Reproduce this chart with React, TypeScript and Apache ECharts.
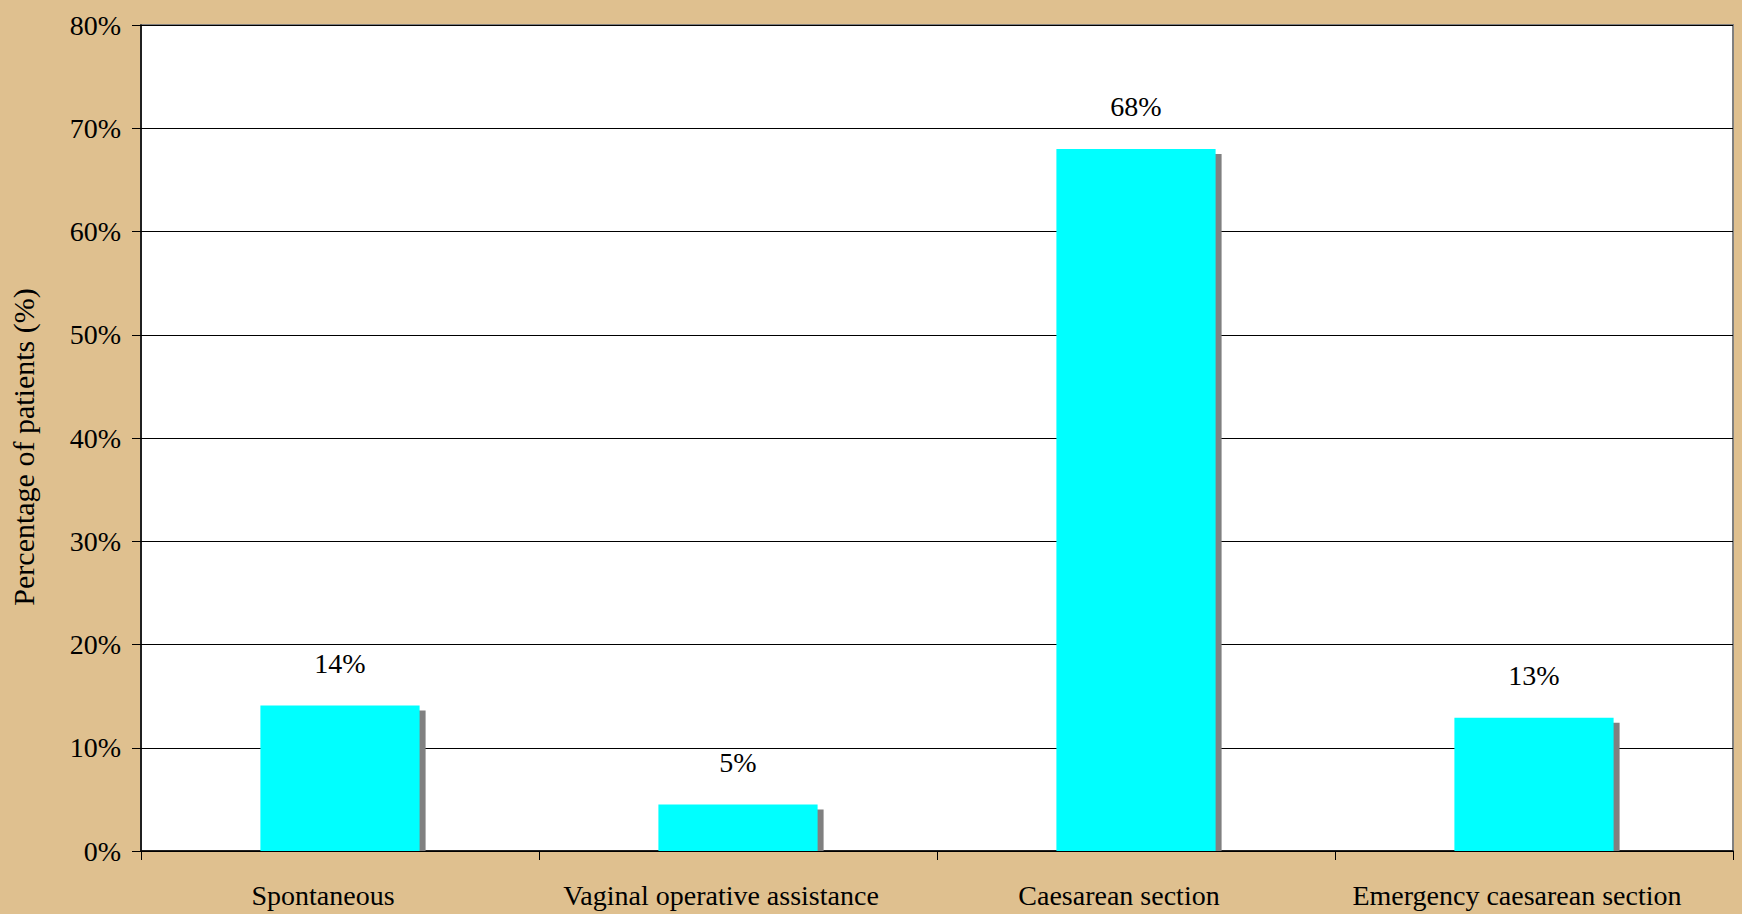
import React, { useEffect, useRef } from "react";
import * as echarts from "echarts";

const categories = [
  "Spontaneous",
  "Vaginal operative assistance",
  "Caesarean section",
  "Emergency caesarean section",
];
const values = [14.1, 4.5, 68.0, 12.9];
const labels = ["14%", "5%", "68%", "13%"];
const yTicks = [0, 10, 20, 30, 40, 50, 60, 70, 80];

const FONT = "'Liberation Serif', 'Times New Roman', serif";

export default function App() {
  const ref = useRef<HTMLDivElement>(null);
  useEffect(() => {
    document.body.style.margin = "0";
    const chart = echarts.init(ref.current!, null, { renderer: "svg" });
    chart.setOption({
      animation: false,
      backgroundColor: "#dfc08f",
      grid: {
        left: 140,
        top: 25,
        right: 9,
        bottom: 63,
        show: true,
        backgroundColor: "#ffffff",
        borderColor: "#808080",
        borderWidth: 2,
      },
      xAxis: {
        type: "category",
        data: categories,
        axisLine: { lineStyle: { color: "#000", width: 1.5 } },
        axisTick: { show: true, length: 9, lineStyle: { color: "#000" } },
        axisLabel: {
          interval: 0,
          color: "#000",
          fontFamily: FONT,
          fontSize: 28,
          margin: 30,
          padding: [0, 34, 0, 0],
        },
      },
      yAxis: {
        type: "value",
        min: yTicks[0],
        max: yTicks[yTicks.length - 1],
        interval: 10,
        name: "Percentage of patients (%)",
        nameLocation: "middle",
        nameGap: 103,
        nameTextStyle: {
          color: "#000",
          fontFamily: FONT,
          fontSize: 30,
          padding: [0, 18, 0, 0],
        },
        axisLine: { show: true, lineStyle: { color: "#000", width: 1.5 } },
        axisTick: { show: true, length: 9, lineStyle: { color: "#000" } },
        splitLine: { show: true, lineStyle: { color: "#000", width: 1 } },
        axisLabel: {
          color: "#000",
          fontFamily: FONT,
          fontSize: 28,
          margin: 20,
          formatter: (v: number) => `${v}%`,
        },
      },
      series: [
        {
          type: "custom",
          z: 1,
          silent: true,
          data: values.map((v, i) => [i, v]),
          renderItem: (params: any, api: any) => {
            const top = api.coord([api.value(0), api.value(1)]);
            const base = api.coord([api.value(0), 0]);
            const w = api.size([1, 0])[0] * 0.4;
            return {
              type: "rect",
              shape: {
                x: top[0] - w / 2 + 6,
                y: top[1] + 5,
                width: w,
                height: Math.max(0, base[1] - top[1] - 5),
              },
              style: { fill: "#808080" },
            };
          },
        },
        {
          type: "bar",
          z: 2,
          data: values,
          barCategoryGap: "60%",
          itemStyle: { color: "#00ffff" },
          label: {
            show: true,
            position: "top",
            distance: 28,
            color: "#000",
            fontFamily: FONT,
            fontSize: 28,
            formatter: (p: any) => labels[p.dataIndex],
          },
        },
      ],
    });
    return () => chart.dispose();
  }, []);
  return <div ref={ref} style={{ width: 1742, height: 914 }} />;
}
